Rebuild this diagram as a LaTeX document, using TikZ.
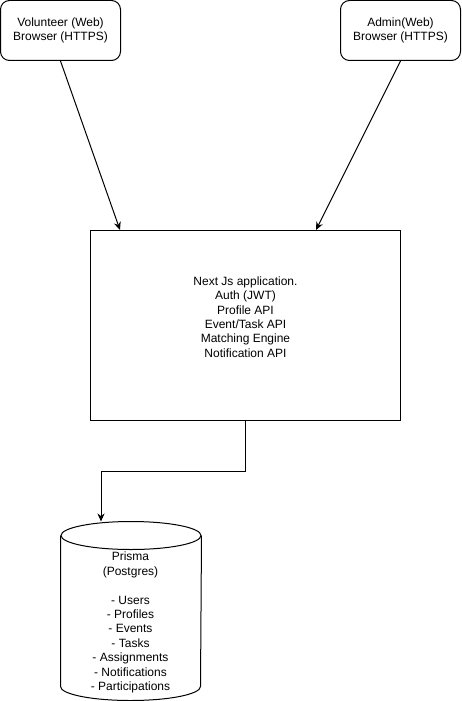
\documentclass[tikz,border=0pt]{standalone}
\usepackage{fontspec}
\setmainfont{Liberation Sans}
\usetikzlibrary{arrows.meta}
\begin{document}
\begin{tikzpicture}[x=1pt, y=-1pt, line width=1pt,
    browser/.style ={rectangle, draw, rounded corners=9pt, minimum width=120pt, minimum height=60pt, align=center, font=\fontsize{12}{14.4}\selectfont},
    server/.style ={rectangle, draw, minimum width=310pt, minimum height=190pt},
    database/.style ={rectangle, minimum width=140pt, minimum height=178pt},
    caption/.style ={align=center, font=\fontsize{12}{14.4}\selectfont},
    link/.style ={-{Stealth[length=8pt,width=7pt]}}]
   \useasboundingbox (0,0) rectangle (461,701);
   \node[browser] (V) at (60.5,30.5) {Volunteer (Web)\\Browser (HTTPS)};
   \node[browser] (A) at (400.5,30.5) {Admin(Web)\\Browser (HTTPS)};
   \node[server] (N) at (245.5,325.5) {};
   \node[caption] (NT) at (245.5,317) {Next Js application.\\Auth (JWT)\\Profile API\\Event/Task API\\Matching Engine\\Notification API};
   \node[database] (P) at (131,611) {};
   \draw ([yshift=-14pt]P.north) ellipse[x radius=70, y radius=14];
   \draw ([yshift=-14pt]P.north west) -- ([yshift=14pt]P.south west)
      arc[start angle=180, end angle=0, x radius=70, y radius=14] -- ([yshift=-14pt]P.north east);
   \node[caption] (PT) at (130.5,622.5) {Prisma\\(Postgres)\\[14.4pt]- Users\\- Profiles\\- Events\\- Tasks\\- Assignments\\- Notifications\\- Participations};
   \draw[link] (V.south) to ([xshift=30pt]N.north west);
   \draw[link] (A.south) to ([xshift=-85pt]N.north east);
   \draw[link] (N.south) -- ++(0,50) -| ([xshift=-30pt]P.north);
 \end{tikzpicture}
\end{document}
